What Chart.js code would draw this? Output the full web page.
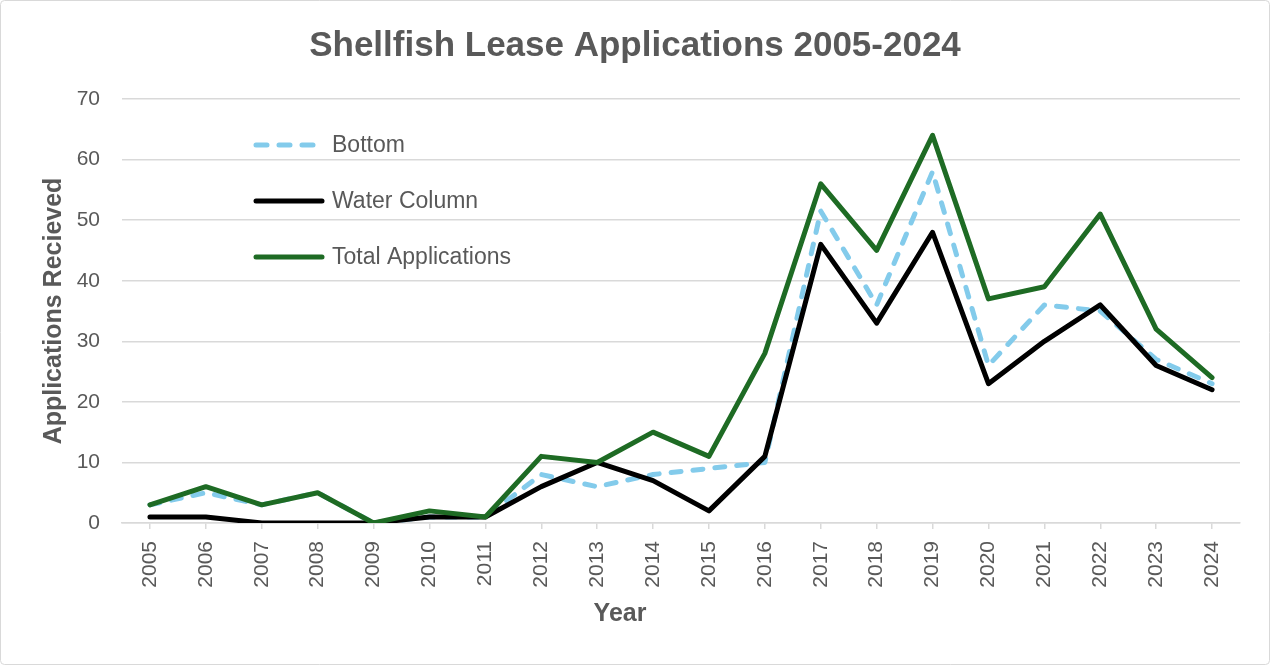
<!DOCTYPE html>
<html>
<head>
<meta charset="utf-8">
<script src="https://cdn.jsdelivr.net/npm/chart.js@4.4.1/dist/chart.umd.min.js"></script>
<style>
  html, body { margin: 0; padding: 0; background: #fff; }
  #wrap { position: absolute; left: 0; top: 0; width: 1270px; height: 665px; }
</style>
</head>
<body>
<div id="wrap"><canvas id="c" width="1270" height="665"></canvas></div>
<script>
// Shellfish lease applications by year
const years = ['2005','2006','2007','2008','2009','2010','2011','2012','2013','2014',
               '2015','2016','2017','2018','2019','2020','2021','2022','2023','2024'];
const bottom = [3, 5, 3, 5, 0, 1, 1, 8, 6, 8, 9, 10, 51.5, 36, 58, 26, 36, 35, 27, 23];
const waterColumn = [1, 1, 0, 0, 0, 1, 1, 6, 10, 7, 2, 11, 46, 33, 48, 23, 30, 36, 26, 22];
const totalApps = [3, 6, 3, 5, 0, 2, 1, 11, 10, 15, 11, 28, 56, 45, 64, 37, 39, 51, 32, 24];
const yTicks = [0, 10, 20, 30, 40, 50, 60, 70];
const xTitle = 'Year';

const TEXT = '#595959';
const GRID = '#d9d9d9';
const FONT = "'Liberation Sans', Arial, sans-serif";

const series = [
  { label: 'Bottom', data: bottom, color: '#83cbeb', dash: [10, 12], order: 2 },
  { label: 'Water Column', data: waterColumn, color: '#000000', dash: [], order: 1 },
  { label: 'Total Applications', data: totalApps, color: '#1e6b24', dash: [], order: 0 }
];

// white background plus the thin rounded frame round the whole chart
const frame = {
  id: 'frame',
  beforeDraw(chart) {
    const ctx = chart.ctx;
    ctx.save();
    ctx.fillStyle = '#fff';
    ctx.fillRect(0, 0, chart.width, chart.height);
    ctx.strokeStyle = GRID;
    ctx.lineWidth = 1;
    ctx.beginPath();
    ctx.roundRect(0.5, 0.5, chart.width - 1, chart.height - 1, 4);
    ctx.stroke();
    ctx.restore();
  }
};

// vertical legend inside the plot area (top left) and the x-axis caption
const insetLegend = {
  id: 'insetLegend',
  afterDraw(chart) {
    const ctx = chart.ctx;
    const x0 = 256, x1 = 322, tx = 332;
    const rows = [145, 201, 257];
    ctx.save();
    series.forEach((s, i) => {
      const y = rows[i];
      ctx.strokeStyle = s.color;
      ctx.lineWidth = 5;
      ctx.lineCap = 'round';
      ctx.setLineDash(s.dash.length ? [11, 12] : []);
      ctx.beginPath();
      ctx.moveTo(x0, y);
      ctx.lineTo(x1, y);
      ctx.stroke();
      ctx.setLineDash([]);
      ctx.fillStyle = TEXT;
      ctx.font = "23px " + FONT;
      ctx.textBaseline = 'middle';
      ctx.textAlign = 'left';
      ctx.fillText(s.label, tx, y + 1);
    });
    ctx.fillStyle = TEXT;
    ctx.font = "bold 25px " + FONT;
    ctx.textAlign = 'center';
    ctx.textBaseline = 'middle';
    ctx.fillText(xTitle, 620, 614);
    ctx.restore();
  }
};

new Chart(document.getElementById('c'), {
  type: 'line',
  data: {
    labels: years,
    datasets: series.map(s => ({
      label: s.label,
      data: s.data,
      borderColor: s.color,
      backgroundColor: s.color,
      borderWidth: 5,
      borderDash: s.dash,
      borderCapStyle: 'round',
      borderJoinStyle: 'round',
      pointRadius: 0,
      tension: 0,
      order: s.order
    }))
  },
  options: {
    responsive: false,
    animation: false,
    events: [],
    layout: { padding: 0 },
    plugins: {
      legend: { display: false },
      tooltip: { enabled: false },
      title: {
        display: true,
        text: 'Shellfish Lease Applications 2005-2024',
        color: TEXT,
        font: { family: FONT, size: 35, weight: 'bold' },
        padding: { top: 25, bottom: 32 }
      }
    },
    scales: {
      x: {
        offset: true,
        grid: {
          display: true,
          drawOnChartArea: false,
          drawTicks: true,
          tickLength: 6,
          color: GRID,
          lineWidth: 1.5,
          offset: false
        },
        border: { display: true, color: GRID, width: 1.5 },
        ticks: {
          color: TEXT,
          font: { family: FONT, size: 21 },
          minRotation: 90,
          maxRotation: 90,
          padding: 12,
          autoSkip: false
        },
        title: { display: false },
        afterFit(scale) { scale.height = 142; }
      },
      y: {
        min: 0,
        max: 70,
        afterBuildTicks(scale) { scale.ticks = yTicks.map(v => ({ value: v })); },
        grid: { color: GRID, lineWidth: 1.5, drawTicks: false },
        border: { display: false },
        ticks: {
          color: TEXT,
          font: { family: FONT, size: 21 },
          padding: 22
        },
        title: {
          display: true,
          text: 'Applications Recieved',
          color: TEXT,
          font: { family: FONT, size: 25, weight: 'bold' },
          padding: { top: 39, bottom: 0 }
        },
        afterFit(scale) { scale.width = 122; }
      },
      // empty margin on the right of the plot area
      yRight: {
        position: 'right',
        min: 0,
        max: 70,
        grid: { display: false, drawTicks: false },
        border: { display: false },
        ticks: { display: false },
        afterFit(scale) { scale.width = 30; }
      }
    }
  },
  plugins: [frame, insetLegend]
});
</script>
</body>
</html>
